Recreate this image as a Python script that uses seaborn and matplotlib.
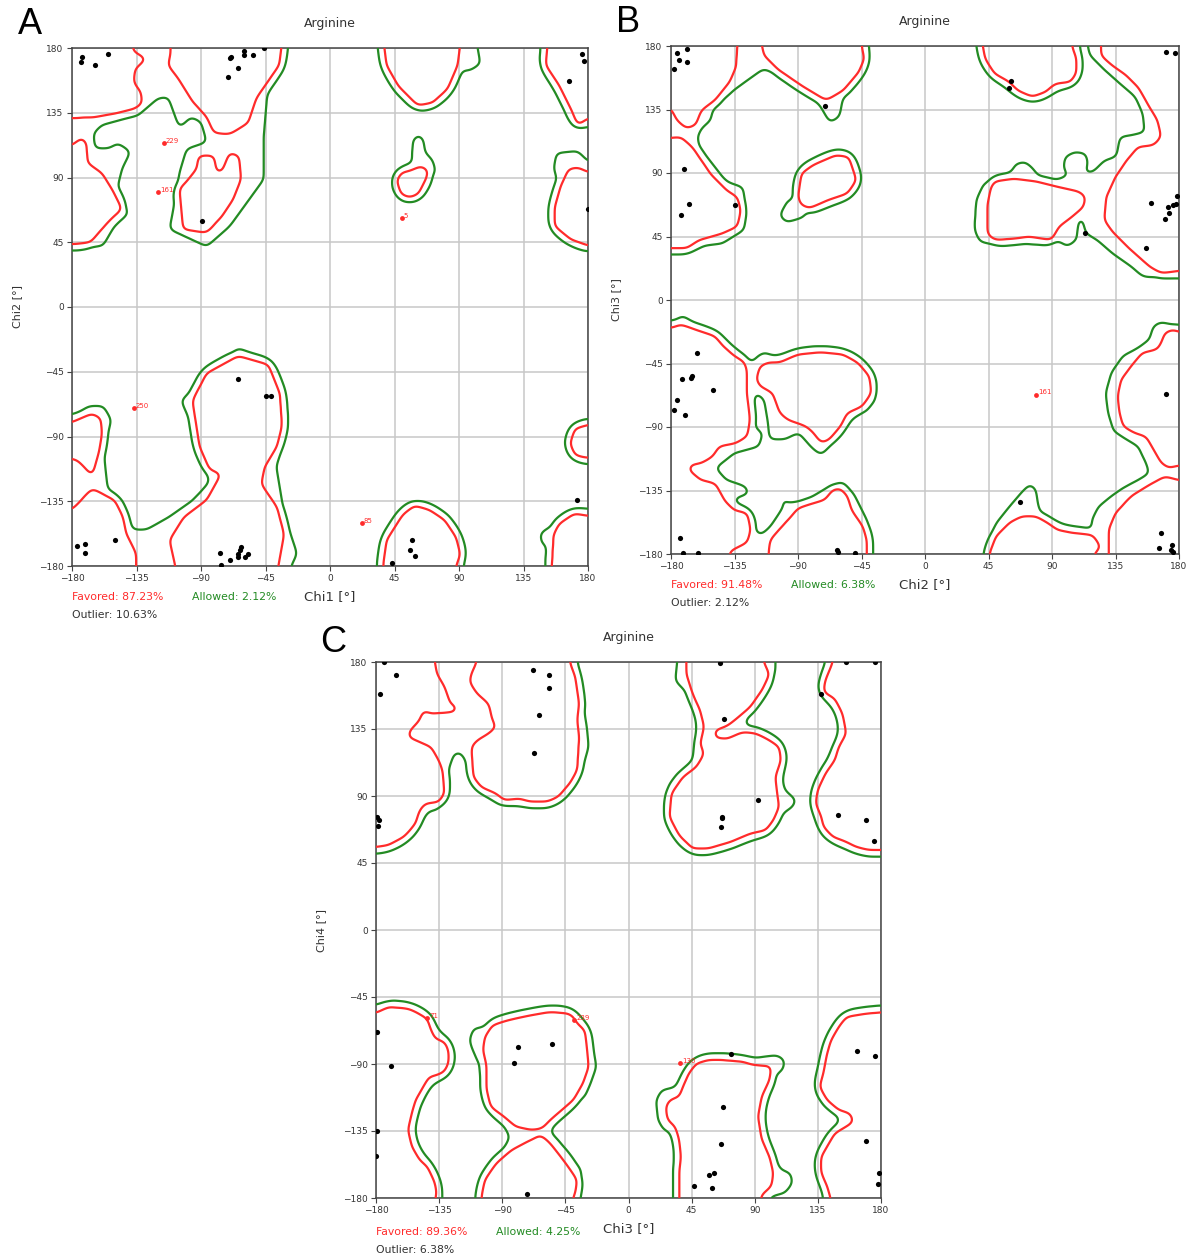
import numpy as np
import matplotlib
matplotlib.use("Agg")
import matplotlib.pyplot as plt
from matplotlib.path import Path
import seaborn as sns

# ---------------- DATA ----------------
TICKS = [-180, -135, -90, -45, 0, 45, 90, 135, 180]
TITLE = "Arginine"
PANEL_LETTERS = ["A", "B", "C"]
X_LABELS = ["Chi1 [°]", "Chi2 [°]", "Chi3 [°]"]
Y_LABELS = ["Chi2 [°]", "Chi3 [°]", "Chi4 [°]"]
FAVORED = ["87.23%", "91.48%", "89.36%"]
ALLOWED = ["2.12%", "6.38%", "4.25%"]
OUTLIER = ["10.63%", "2.12%", "6.38%"]

# favored-region outlines (red contour), degrees
A_FAV = [
    [(-185,131),(-164,132),(-150,134.5),(-136,138),(-131,141.5),(-132,149.5),(-137,156),(-136,165.5),(-128,172.5),(-137,177.5),(-139,185),(-185,185)],
    [(-111,185),(-111,177),(-113,168),(-106,159),(-96,143),(-86,132),(-81,121),(-70,120),(-57,128),(-51.5,145),(-35.5,168),(-34,180),(-34,185)],
    [(-185,108),(-178,114),(-173,118),(-170,114),(-169,100),(-159,93),(-151,80),(-145,68),(-153,61),(-161,52),(-167,45),(-180,43.5),(-185,43.5)],
    [(-105,82),(-102.5,54),(-86,51.5),(-75.5,63),(-67.5,75),(-62,89),(-63.5,105),(-70,107.5),(-75.5,94),(-79,93),(-81,105),(-91.7,105.5),(-93,96),(-101,86)],
    [(38,185),(38,180),(39.5,168),(47.5,154),(61,140),(71.5,142),(82,151.5),(89,168),(90.5,180),(90.5,185)],
    [(46.5,88),(49.5,78.5),(55.5,76),(61.5,78.5),(67,89),(68.5,95),(63.5,98),(55.5,94.5),(50,93.5)],
    [(152,185),(150.5,168),(160,154),(168,138),(173,126),(178,130),(185,134),(185,185)],
    [(185,91),(173,97),(166.5,96),(161,84),(157,70),(157,56),(168,47),(185,41)],
    [(-108,-185),(-108,-180),(-112,-162),(-102,-146),(-86,-134),(-76,-116),(-84,-113),(-91,-97),(-96,-65),(-86,-46),(-64,-34),(-43,-40),(-35,-60),(-33.5,-83),(-37,-97),(-45.5,-111),(-48,-123),(-37,-139),(-32,-158),(-36,-180),(-36,-185)],
    [(-185,-81),(-180,-80),(-166,-74),(-160,-77),(-159,-88),(-161,-100),(-166,-118),(-170,-113),(-176.5,-106.5),(-185,-104)],
    [(-185,-141),(-180,-141),(-166,-126),(-150,-134.5),(-144.5,-146),(-142,-158),(-135,-171.5),(-135,-185),(-185,-185)],
    [(37,-185),(37,-180),(39.5,-162),(51,-144),(59,-138),(69.5,-141),(80,-148),(88,-160),(91,-172),(88,-180),(88,-185)],
    [(185,-82),(180,-82),(171,-84.5),(167.5,-95),(171,-103),(180,-105),(185,-105)],
    [(154.5,-185),(156,-158),(160,-150.5),(170.5,-143.5),(185,-146),(185,-185)],
]
# extra allowed area (green contour) beyond the favored regions
A_ALLOW = [
    [(-185,185),(-31,185),(-30,174),(-43.5,151.5),(-46,121),(-46,89),(-70,56),(-86,42),(-112,54),(-108,75),(-105,93.5),(-100,110),(-86,114.5),(-90,128.5),(-97,132),(-105,124),(-109,135),(-113,146),(-120,145),(-134,133),(-146,130),(-159,126.5),(-165,121),(-164,110),(-154.5,110),(-148,114),(-139,108),(-145,96),(-150.5,75),(-140,65.5),(-150.5,56),(-158.5,42.3),(-180,41),(-185,41)],
    [(86,185),(88,166),(97,164),(105,169),(102,185)],
    [(57,103),(58,116.5),(62,120),(65,117),(66.5,107),(71.5,102.5),(74,93.5),(60,92)],
    [(156,96),(158,107),(173,108.5),(185,96),(185,85),(160,85)],
    [(-185,-76),(-180,-76),(-168.5,-69),(-158,-69),(-152.5,-78.5),(-158,-99.5),(-155,-127.5),(-144.5,-134.5),(-142,-155),(-128.5,-155),(-112.5,-146),(-96,-134.5),(-83,-120.5),(-91,-97),(-96,-83),(-104,-65),(-91,-53),(-64,-28.5),(-43,-36.5),(-32,-57.5),(-29.5,-85.5),(-37.5,-111),(-32,-143.5),(-23,-171.5),(-29.5,-185),(-185,-185)],
    [(148,-166),(146.5,-157.5),(152,-153.5),(156,-160)],
]

B_FAV = [
    [(-185,136),(-180,136),(-176,127.5),(-169,121.5),(-162.5,124),(-158.5,134.5),(-149,141.5),(-138.5,154.5),(-134,165),(-133,180),(-133,185),(-185,185)],
    [(-115.5,185),(-115.5,180),(-114,173),(-103.5,163),(-87.5,152),(-70,141.5),(-58,148.5),(-47,161.5),(-43,171),(-45,180),(-45,185)],
    [(-185,114.5),(-173,115.5),(-165,108.5),(-152,89.5),(-141,78),(-133,73),(-130.5,63.5),(-133,52),(-144,47),(-160,42.5),(-169,36.5),(-185,36.5)],
    [(-90,73),(-87.5,89.7),(-79.4,95.6),(-63.3,102.6),(-54,101.5),(-48.6,85),(-55,75.5),(-68.7,70.8),(-82,65),(-88,67.5)],
    [(41,185),(41,180),(42.6,171),(49.3,160.4),(60,154.5),(65.4,148.6),(76,144),(85.6,147.5),(92,153.3),(103,154.5),(107,160.4),(107,172),(104,180),(104,185)],
    [(125,185),(125,180),(124.5,173.4),(132.5,166.3),(143,159),(151,151),(159,136.8),(164.7,127.4),(167.4,115.6),(162,109.7),(151,108.5),(143,99),(135,87.3),(128.5,73),(127,56.6),(133.8,47.2),(146,35.4),(159.3,23.6),(167.4,19),(185,21.3),(185,185)],
    [(46.7,80),(49.3,84),(63,86),(79,84),(95,80),(109.7,76.7),(113.7,73),(112.4,66),(103,58),(95,52),(89.6,42.5),(73.5,45),(65.4,43.7),(49.3,42.5),(44,47),(44,66)],
    [(-185,-20),(-180,-20),(-173,-17.3),(-162.6,-21),(-149,-25.6),(-143,-32.7),(-135,-39.8),(-128,-44),(-126,-50),(-126,-68),(-124,-84.8),(-126,-96.7),(-134,-101.4),(-146,-103.8),(-150.4,-110.9),(-158.4,-115.6),(-166.4,-117),(-167.4,-120.4),(-159,-127.5),(-148.6,-130),(-142,-142),(-135,-149),(-126,-151),(-123.6,-163),(-126,-172),(-138,-178),(-140,-185),(-185,-185)],
    [(-119.6,-56.4),(-117,-46.9),(-111.6,-44.5),(-103.6,-44.5),(-90,-38.6),(-74,-37),(-58,-38.6),(-47.5,-44.5),(-39.5,-54),(-38,-65.9),(-44.5,-75.4),(-55,-80),(-60,-89.6),(-68,-99),(-73.5,-101.4),(-79,-94.3),(-84,-89.6),(-97.5,-84.8),(-103,-80),(-108,-65.9),(-117,-61)],
    [(-111,-185),(-111,-180),(-109.7,-170),(-103.6,-163),(-95,-153.5),(-90,-147.6),(-79,-144),(-71,-141.7),(-65.5,-134.6),(-60,-133.4),(-55,-139),(-52,-148.8),(-44,-160.7),(-41.3,-170),(-41.3,-185)],
    [(185,-24.4),(175.5,-20.9),(170,-23.2),(167.4,-30.3),(164.7,-35),(154,-37.4),(146,-47),(139,-56.4),(136.5,-68.2),(137.8,-80),(140.5,-89.6),(148.6,-94.3),(156.6,-96.7),(162,-106),(167.4,-115.6),(172.8,-119.2),(185,-115.6)],
    [(45.5,-185),(45.5,-180),(50.5,-167),(61,-157),(68,-153.5),(79,-153.5),(87,-158),(94,-163),(104.5,-165),(119,-166.6),(124.5,-175),(120,-180),(119,-185)],
    [(130,-185),(130,-163),(135,-151),(146,-139),(159,-131),(170,-125),(185,-129),(185,-185)],
]
B_ALLOW = [
    [(-185,185),(-44,185),(-42,173.4),(-44.5,165),(-58,144),(-60.6,130),(-67.3,125.5),(-74,137),(-84.8,150),(-103.5,159),(-114.3,164),(-135.7,148.6),(-150.5,134.5),(-151.8,127.4),(-158.5,121.5),(-161.2,115.6),(-160,108.5),(-149,94.4),(-141,84),(-129,80),(-126.4,61.4),(-128.3,49.6),(-143.8,40),(-162.6,37.8),(-170.6,33),(-180,34),(-185,34)],
    [(-103,60),(-98,55),(-85,59),(-88,70),(-97,71)],
    [(135.5,101.5),(127.5,99),(119.5,91),(113,89.6),(115.5,96.7),(114,103.8),(106,105),(99.3,101.5),(98,93.2),(102,88.5),(92.7,85),(80.6,87.3),(76.5,93.2),(71.2,97.9),(64.5,96.7),(57.8,85),(41.7,82.6),(36.3,70.8),(35,49.6),(39,41.3),(49.7,39),(63,42.5),(76.5,39),(87.3,42.5),(91.3,46),(94,42.5),(100.7,37.8),(107.4,42.5),(108.7,56.6),(111.4,59),(114,47.2),(122,42.5),(132.9,33),(146.3,23.6),(154.3,16.6),(180,15.4),(185,15),(185,185),(115,185),(115.4,180),(116.8,173.4),(127.5,162.8),(138.2,153.3),(149,144),(154.3,132),(155.7,119),(146.3,116.8),(138.2,115.6),(136.9,108.5)],
    [(-185,-16.5),(-180,-16.5),(-172,-11),(-160,-18),(-147,-23),(-139,-35),(-131,-42),(-124.5,-47),(-119,-40),(-114,-37),(-106,-40),(-90,-35),(-68.6,-35),(-47,-41),(-36.5,-54),(-35,-70.6),(-41.6,-79),(-52,-81),(-63,-99),(-73.5,-110),(-80,-105),(-89.6,-94),(-100,-99),(-110,-99),(-111.6,-85),(-114,-70.6),(-122,-63.5),(-127.7,-68),(-127.7,-77.7),(-122,-89.6),(-115,-94.3),(-117.7,-103.8),(-135,-108.5),(-148.6,-119.2),(-140.6,-127.5),(-127,-132.2),(-124.5,-137),(-138,-141.7),(-140.6,-151),(-131,-158.3),(-116.4,-166.6),(-109.7,-160.7),(-100.3,-146.4),(-101.6,-138),(-97.6,-144),(-84,-141.7),(-68,-132.2),(-58.6,-128.7),(-50.6,-137),(-41,-156),(-37.3,-180),(-37.3,-185),(-185,-185)],
    [(43.7,-185),(43.7,-180),(45,-170),(50.5,-158),(61,-145),(67,-138),(74.6,-130),(78.6,-134.6),(80,-144),(83,-156),(91,-160.7),(104.5,-163),(118,-163),(118,-156),(123,-146.4),(132,-139),(140,-133.4),(151,-127.5),(159,-122.7),(156.6,-115.6),(151,-103.8),(143,-99),(133.7,-93),(129.7,-80),(128,-66),(132,-51.7),(140,-39.8),(151,-33.9),(159,-28),(161.8,-18.5),(167,-15.6),(180,-18.5),(185,-18.5),(185,-185)],
]

C_FAV = [
    [(-185,185),(-138,185),(-138,180),(-136.7,172.2),(-131,163.2),(-127,152),(-121.6,149.4),(-124.3,146.4),(-140.8,145.3),(-146.3,147.6),(-149,140.8),(-155.9,134.1),(-157.2,129.7),(-149,126.3),(-140.8,123),(-135.3,114),(-132.6,107.3),(-131.2,91.6),(-135.3,86),(-144.9,84.9),(-149,80.4),(-151.8,71.5),(-160,62.5),(-171,57),(-180,55.8),(-185,55.8)],
    [(-108,185),(-108,180),(-112,172),(-113.4,166.6),(-107.9,158.7),(-99.7,152),(-97,140.8),(-94.2,136.4),(-99.7,132),(-107.9,127.4),(-112,123),(-110.6,102.8),(-105,96),(-94,91.5),(-88.7,87.2),(-77.7,88.3),(-69.5,86),(-58.5,86),(-50.3,89.4),(-42,98.3),(-36.6,107.3),(-35.2,129.7),(-36.6,140.8),(-35.2,152),(-38,170),(-42,180),(-42,185)],
    [(41.5,185),(41.5,171),(45.7,158.7),(51,147.6),(54,136.4),(51,125),(54,118.5),(48.4,109.5),(38.8,102.8),(30.6,91.6),(29.2,76),(36,63.7),(45.7,54.7),(56.6,54.7),(73,59.2),(86.8,64.8),(97.8,67),(103.2,73.7),(107.4,82.7),(106,91.6),(104.6,102.8),(108.7,114),(107.4,123),(100.5,127.4),(90.9,132),(81.3,133),(70.3,128.4),(62,129),(61,134),(70.3,137),(75.8,141),(86.8,149.8),(95,161),(100.5,172),(96.4,180),(96.4,185)],
    [(145.7,185),(145.7,180),(140.3,167.7),(138.9,159.9),(147.1,155.4),(152.6,145.3),(155.3,131.9),(149.9,123),(147.1,114),(140.3,105),(134.8,93.9),(133.4,85),(137.5,76),(138.9,69.3),(145.7,62.6),(155.3,59.2),(162.2,55.8),(171.8,53.6),(185,53.6),(185,185)],
    [(-185,-55.7),(-180,-55.7),(-171,-51.7),(-157.2,-52.8),(-151.8,-55),(-143.5,-59.5),(-140.8,-67.3),(-138,-72.9),(-131.2,-75.1),(-128.4,-80.7),(-128.4,-89.6),(-131.2,-95.2),(-136.7,-97.5),(-142.2,-98.6),(-146.3,-105.3),(-150.4,-112),(-151.8,-114.2),(-154.5,-123.1),(-157.2,-134.3),(-154.5,-145.4),(-149,-154.4),(-143.5,-158.8),(-138,-170),(-136.7,-176.7),(-139.4,-185),(-185,-185)],
    [(-102.4,-71.8),(-103.8,-80.7),(-101,-91.9),(-101,-107.5),(-98.3,-118.7),(-88.7,-125.4),(-80.5,-132),(-69.5,-134.3),(-61.3,-133.2),(-55.8,-127.6),(-47.6,-120.9),(-39.3,-114.2),(-32.5,-103),(-28.4,-91.9),(-29.7,-78.5),(-31.1,-67.3),(-36.6,-62.9),(-39.3,-58.4),(-42.1,-56.2),(-55.8,-55),(-69.5,-57.3),(-86,-60.6),(-97,-64)],
    [(-105,-185),(-105,-180),(-102.4,-167.8),(-94.2,-156.6),(-83.2,-147.7),(-69.5,-141),(-62.6,-137.6),(-55.8,-143.2),(-44.8,-156.6),(-36.6,-167.8),(-38,-176.7),(-42,-185)],
    [(36.1,-185),(36.1,-163.3),(37.4,-152.1),(36.1,-140.9),(33.3,-132),(27.8,-127.6),(26.5,-118.7),(29.2,-114.2),(36.1,-112),(38.8,-105.3),(43,-96.3),(48.4,-89.6),(56.6,-87.4),(67.6,-87.4),(81.3,-88.5),(89.5,-90.8),(101.9,-91.4),(100.5,-100.8),(95,-112),(92.3,-125.4),(95,-140.9),(100.5,-152.1),(103.2,-163.3),(101.9,-172.2),(95,-177.8),(92.3,-185)],
    [(185,-55),(169,-56.2),(155.3,-58.4),(149.9,-65.1),(144.4,-74),(141.6,-82.9),(138.9,-96.3),(136.2,-105.3),(141.6,-114.2),(149.9,-120.9),(158,-123.1),(160.8,-128.7),(155.3,-132),(147.1,-136.5),(141.6,-145.4),(137.5,-152.1),(137.5,-163.3),(141.6,-172.2),(145.7,-185),(185,-185)],
]
C_ALLOW = [
    [(-185,53.6),(-180,53.6),(-168.2,55.8),(-154.5,64.8),(-146.3,76),(-143.5,80.4),(-136.7,80.4),(-132.6,87.2),(-128.5,107.3),(-124.3,118.5),(-120.2,119.6),(-116.1,114),(-113.4,102.8),(-105.1,91.6),(-91.4,83.8),(-80.5,86),(-69.5,85),(-58.5,85.4),(-47.6,91.6),(-38,100.6),(-32.5,109.5),(-28.4,123),(-29.7,136.4),(-32.5,152),(-35.2,170),(-39.3,180),(-39.3,185),(-185,185)],
    [(34.7,185),(34.7,180),(33.3,167.7),(37.6,163.2),(48.4,154.3),(51.1,140.9),(47,127.4),(45.7,114),(34.7,105),(29.2,98.3),(25.1,85),(26.5,73.7),(34.7,64.8),(45.7,51.4),(56.6,53.6),(73,59.2),(89.5,61.4),(99.1,64.8),(106,76),(117,82.7),(119.7,87.2),(111.5,93.9),(107.4,109.5),(108.7,120.7),(103.2,129.7),(88.2,134.1),(81.3,138.6),(89.5,152),(99.1,165.5),(104.6,173.3),(104.6,185)],
    [(-113.4,-74),(-110.6,-66.2),(-102.4,-65.1),(-88.7,-58.4),(-69.5,-55.7),(-53,-55),(-36.6,-59.5),(-29.7,-65.1),(-25.6,-76.3),(-22.9,-91.9),(-27,-103),(-31.1,-112),(-42.1,-117.5),(-53,-125.4),(-57.2,-134.3),(-50.3,-141),(-42.1,-150),(-33.9,-161),(-33.9,-172.2),(-36.6,-180),(-36.6,-185),(-107.9,-185),(-107.9,-180),(-106.5,-167.8),(-99.7,-161),(-91.4,-152.1),(-84.6,-138.8),(-88.7,-132),(-96.9,-125.4),(-99.7,-109.7),(-102.4,-96.3),(-107.9,-87.4),(-112,-78.5)],
    [(33.3,-185),(33.3,-163.3),(36.1,-149.9),(33.3,-136.5),(25.1,-134.3),(21,-127.6),(19.6,-114.2),(23.7,-107.5),(34.7,-105.3),(40.2,-96.3),(51.1,-87.4),(62.1,-84.1),(73,-83),(84,-87.4),(95,-85.2),(106,-84.1),(111.5,-87.4),(110.1,-94.1),(101.9,-98.6),(97.8,-107.5),(95,-125.4),(97.8,-141),(103.2,-152.1),(108.7,-161),(115.6,-163.3),(117,-170),(111.5,-176.7),(106,-177.8),(99.1,-180),(99.1,-185)],
]

# residues (black) and outliers (red)
A_X = [-173,-174,-164,-155,-70,-69,-64,-71,-60,-60,-54,-46,-89,176,177,167,180,
       -64,-45,-41,-176.5,-171,-171,-150,-77,-76,-70,-64,-62,-63,-57,-59,-64,57,56,59,43,172]
A_Y = [174,170,168,176,173,174,166,160,178,175,175,180,60,176,171,157,68,
       -50,-62,-62,-166,-165,-171,-162,-171,-179,-176,-172,-167,-169,-172,-174,-174,-162,-169,-173,-178,-134]
A_OUT_X = [-116, -120, 50, -137, 22]
A_OUT_Y = [114, 80, 62, -70, -150]
A_OUT_LAB = ["229", "161", "5", "250", "85"]

B_X = [-178,-176,-174,-169,-168.5,-171,-167,-173,-135,-70.8,60.6,59.5,113.7,160,172,172.8,176,178,178.6,170,156.6,171,177.3,
       -161.6,-172.5,-165.8,-165,-150,-175.4,-178,-170,-173.3,-171.4,-161,-62.5,-62,-49.5,67.6,170.6,167.4,166,175,174,175.5]
B_Y = [164,175,170,169,178,93,68,60,67,137.5,155,150,47.2,68.4,65.6,61.4,67.3,68,73.6,57.4,36.6,175.8,175,
       -37.4,-56,-55.2,-54,-63.5,-70.6,-77.7,-81.3,-169,-179.6,-179.6,-177,-178.4,-179,-142.9,-66.6,-165,-176,-173.7,-177,-178.4]
B_OUT_X = [79]
B_OUT_Y = [-67]
B_OUT_LAB = ["161"]

C_X = [-68,-57,-56.5,-64,-67.3,-174,-165.5,-177,-179,-177.8,-178.3,64.9,68.2,92.3,67,67,66.2,137.5,155,175.6,149.3,169,175,
       -179,-169.6,-179,-180,-79.1,-81.8,-54.4,-72.2,73,67.6,66.2,57.5,61.3,46.5,59.4,163,175.4,169,178.4,177.8]
C_Y = [174.4,171.5,162.8,144.2,118.9,180,171,158.3,76,73.7,69.7,179,141.5,87.2,76,75.5,69.3,158.7,180,180,77.5,73.7,60,
       -68.4,-91.2,-135,-152,-78.9,-89.6,-76.9,-177,-83.4,-119,-143.7,-164.6,-163.3,-171.8,-173.3,-81.4,-84.7,-141.4,-163.3,-170.4]
C_OUT_X = [-143.5, -38.8, 37]
C_OUT_Y = [-59, -60.6, -89.6]
C_OUT_LAB = ["71", "239", "130"]

# ---------------- STYLE ----------------
RED = "#ff2b2b"
GREEN = "#238b23"
sns.set_theme(style="whitegrid")
plt.rcParams["font.family"] = ["DejaVu Sans"]
plt.rcParams["axes.unicode_minus"] = True

W, H = 1194, 1259
fig = plt.figure(figsize=(W / 100, H / 100), dpi=100)
fig.patch.set_facecolor("white")

STEP = 0.5
GX = np.arange(-180, 180 + STEP / 2, STEP)
XX, YY = np.meshgrid(GX, GX)
PTS = np.column_stack([XX.ravel(), YY.ravel()])


def raster(polys):
    m = np.zeros(XX.shape, dtype=bool)
    for p in polys:
        m |= Path(np.asarray(p, float)).contains_points(PTS).reshape(XX.shape)
    return m.astype(float)


def gblur(a, sig_deg):
    sig = sig_deg / STEP
    r = int(np.ceil(3.5 * sig))
    t = np.arange(-r, r + 1)
    k = np.exp(-0.5 * (t / sig) ** 2)
    k /= k.sum()
    p = np.pad(a, r, mode="edge")
    p = np.apply_along_axis(np.convolve, 1, p, k, "valid")
    p = np.apply_along_axis(np.convolve, 0, p, k, "valid")
    return p


def panel(box, fav, allow, px, py, ox, oy, olab, idx):
    l, t, r, b = box
    wpx, hpx = r - l, b - t
    ax = fig.add_axes([l / W, 1 - b / H, wpx / W, hpx / H])
    ax.set_facecolor("white")
    fmask = raster(fav)
    red_f = gblur(fmask, 2.3)
    gmask = np.maximum((gblur(fmask, 4.0) > 0.12).astype(float), raster(allow))
    green_f = gblur(gmask, 2.3)
    ax.contour(GX, GX, green_f, levels=[0.5], colors=[GREEN], linewidths=1.6, zorder=3)
    ax.contour(GX, GX, red_f, levels=[0.5], colors=[RED], linewidths=1.6, zorder=4)
    sns.scatterplot(x=px, y=py, ax=ax, color="black", s=14, linewidth=0, legend=False, zorder=5)
    sns.scatterplot(x=ox, y=oy, ax=ax, color=RED, s=12, linewidth=0, legend=False, zorder=5)
    for x, y, s in zip(ox, oy, olab):
        ax.annotate(s, (x, y), xytext=(1.5, 1.5), textcoords="offset points",
                    fontsize=5, color=RED, ha="left", va="center", zorder=6)
    ax.set_xlim(-180, 180)
    ax.set_ylim(-180, 180)
    ax.set_xticks(TICKS)
    ax.set_yticks(TICKS)
    ax.tick_params(axis="both", labelsize=6.5, labelcolor="#333333", bottom=True, left=True,
                   length=3.5, width=0.8, color="#444444", pad=2.5)
    ax.grid(True, color="#c8c8c8", linewidth=1.1)
    ax.set_axisbelow(True)
    for sp in ax.spines.values():
        sp.set_color("#444444")
        sp.set_linewidth(1.1)
    ax.set_title(TITLE, fontsize=9, color="#333333", pad=15)
    ax.set_xlabel(X_LABELS[idx], fontsize=9.5, color="#333333")
    ax.xaxis.set_label_coords(0.5, -24 / hpx)
    ax.set_ylabel(Y_LABELS[idx], fontsize=8, color="#333333")
    ax.yaxis.set_label_coords(-50 / wpx, 0.5)
    off = [31, 49] if idx < 2 else [34, 52]
    ax.annotate("Favored: " + FAVORED[idx], (0, 0), xycoords="axes fraction",
                xytext=(0, -off[0]), textcoords="offset pixels", fontsize=7.8, color=RED,
                ha="left", va="center")
    ax.annotate("Allowed: " + ALLOWED[idx], (0, 0), xycoords="axes fraction",
                xytext=(120, -off[0]), textcoords="offset pixels", fontsize=7.8, color=GREEN,
                ha="left", va="center")
    ax.annotate("Outlier: " + OUTLIER[idx], (0, 0), xycoords="axes fraction",
                xytext=(0, -off[1]), textcoords="offset pixels", fontsize=7.8, color="#333333",
                ha="left", va="center")
    return ax


panel((72, 48, 588, 566), A_FAV, A_ALLOW, A_X, A_Y, A_OUT_X, A_OUT_Y, A_OUT_LAB, 0)
panel((671, 46, 1179, 554), B_FAV, B_ALLOW, B_X, B_Y, B_OUT_X, B_OUT_Y, B_OUT_LAB, 1)
panel((376, 662, 881, 1198), C_FAV, C_ALLOW, C_X, C_Y, C_OUT_X, C_OUT_Y, C_OUT_LAB, 2)

for letter, (cx, cy) in zip(PANEL_LETTERS, [(30, 24), (628, 23), (333, 643)]):
    fig.text(cx / W, 1 - cy / H, letter, fontsize=26, color="black",
             family=["Liberation Sans", "DejaVu Sans"], ha="center", va="center")

fig.savefig("out.png", dpi=100, facecolor="white")
